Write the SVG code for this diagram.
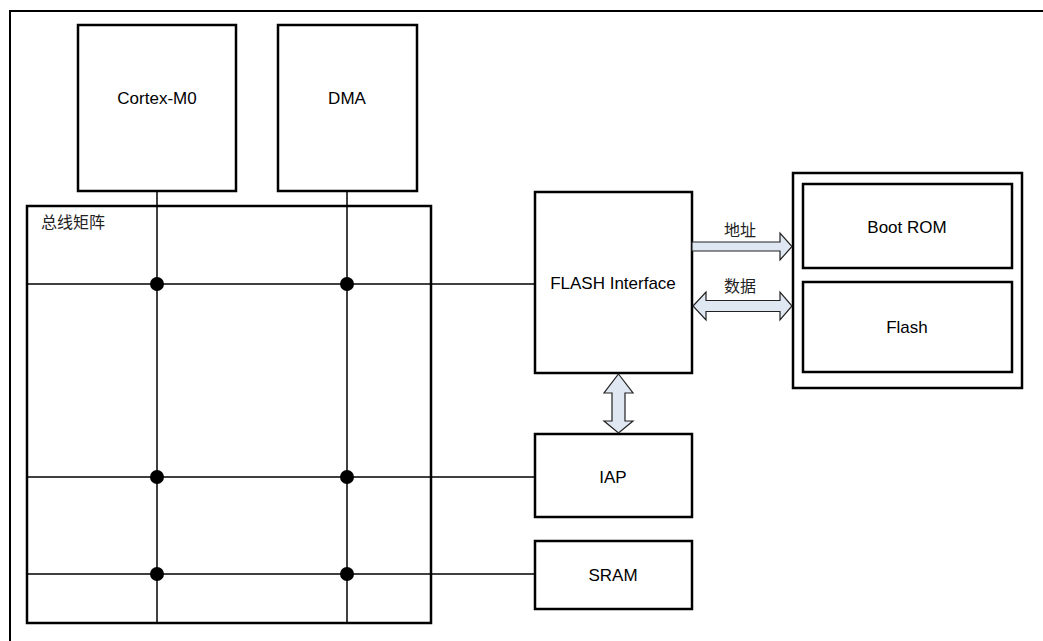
<svg xmlns="http://www.w3.org/2000/svg" width="1043" height="641" viewBox="0 0 1043 641">
<style>
.box{fill:#fff;stroke:#000;stroke-width:2.5}
.ln{stroke:#000;stroke-width:1.5;fill:none}
.dot{fill:#000}
.arr{fill:#dfe7f3;stroke:#222;stroke-width:1.2;stroke-linejoin:miter}
text{font-family:"Liberation Sans",Arial,sans-serif;font-size:17px;fill:#000}
.cjk{font-family:"Liberation Sans","Noto Sans CJK SC",sans-serif;font-size:16px;fill:#222}
</style>
<rect x="0" y="0" width="1043" height="641" fill="#fff"/>
<rect x="10" y="11" width="1045" height="645" fill="none" stroke="#000" stroke-width="2"/>
<g id="bus-matrix">
<rect class="box" x="27" y="206" width="404" height="417"/>
<text class="cjk" x="41" y="228">总线矩阵</text>
</g>
<g id="cortex-m0">
<rect class="box" x="78" y="25" width="158" height="166"/>
<text x="157" y="104" text-anchor="middle">Cortex-M0</text>
</g>
<g id="dma">
<rect class="box" x="278" y="25" width="139" height="166"/>
<text x="347" y="104" text-anchor="middle">DMA</text>
</g>
<g id="flash-interface">
<rect class="box" x="535" y="192" width="157" height="181"/>
<text x="613" y="289" text-anchor="middle">FLASH Interface</text>
</g>
<g id="iap">
<rect class="box" x="535" y="434" width="157" height="83"/>
<text x="613" y="483" text-anchor="middle">IAP</text>
</g>
<g id="sram">
<rect class="box" x="535" y="541" width="157" height="68"/>
<text x="613" y="581" text-anchor="middle">SRAM</text>
</g>
<g id="memory">
<rect class="box" x="793" y="173" width="229" height="215"/>
</g>
<g id="boot-rom">
<rect class="box" x="803" y="184" width="209" height="84"/>
<text x="907" y="233" text-anchor="middle">Boot ROM</text>
</g>
<g id="flash">
<rect class="box" x="803" y="282" width="209" height="90"/>
<text x="907" y="333" text-anchor="middle">Flash</text>
</g>
<g id="connectors">
<line class="ln" x1="157" y1="191" x2="157" y2="623"/>
<line class="ln" x1="347" y1="191" x2="347" y2="623"/>
<line class="ln" x1="27" y1="284" x2="535" y2="284"/>
<line class="ln" x1="27" y1="477" x2="535" y2="477"/>
<line class="ln" x1="27" y1="574" x2="535" y2="574"/>
<circle class="dot" cx="157" cy="284" r="7"/>
<circle class="dot" cx="347" cy="284" r="7"/>
<circle class="dot" cx="157" cy="477" r="7"/>
<circle class="dot" cx="347" cy="477" r="7"/>
<circle class="dot" cx="157" cy="574" r="7"/>
<circle class="dot" cx="347" cy="574" r="7"/>
<polygon class="arr" points="692,242 780,242 780,233 792,246.5 780,260 780,251 692,251"/>
<polygon class="arr" points="693,306 706,292 706,300.5 780,300.5 780,292 792,306 780,320 780,311.5 706,311.5 706,320"/>
<polygon class="arr" points="618.5,374 633,393 625,393 625,421 633,421 618.5,433 604,421 612,421 612,393 604,393"/>
<text class="cjk" x="740" y="236" text-anchor="middle">地址</text>
<text class="cjk" x="740" y="292" text-anchor="middle">数据</text>
</g>
</svg>
